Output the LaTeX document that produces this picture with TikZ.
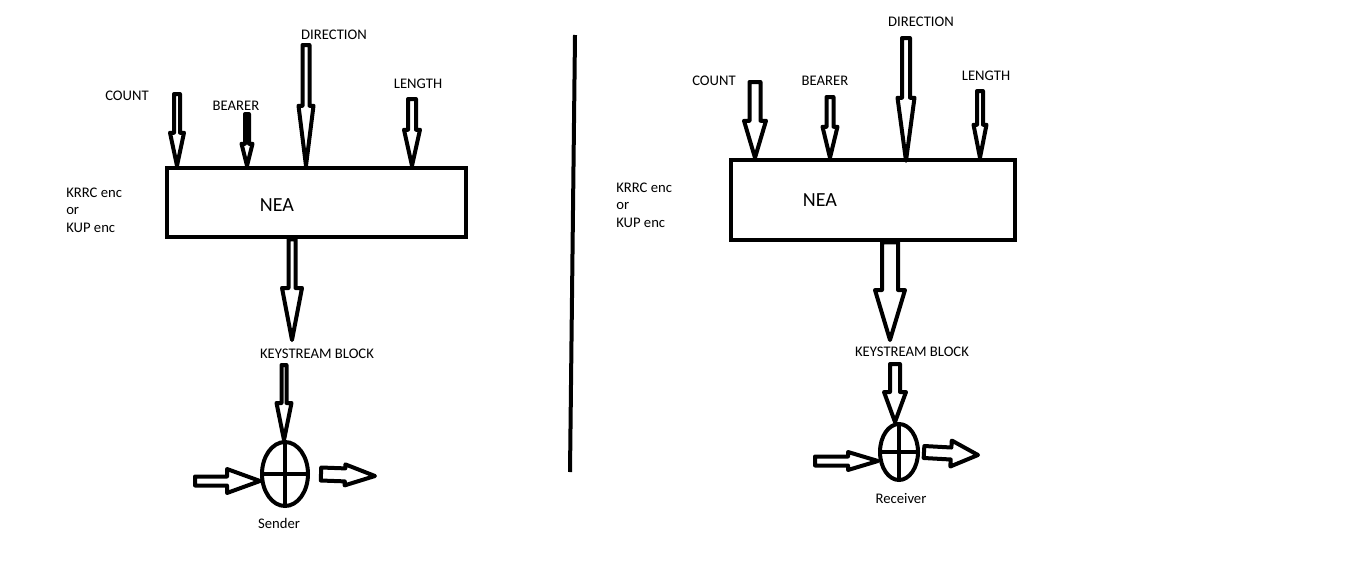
\documentclass[tikz,border=0pt]{standalone}
\usepackage{fontspec}
\setmainfont{Carlito}
\usetikzlibrary{calc, shapes.geometric}

\def\pxu{0.75pt}

\begin{document}
\begin{tikzpicture}[
  x=0.75pt, y=-0.75pt,
  lbl/.style={inner sep=0, font=\fontsize{11}{13}\selectfont},
  alg/.style={inner sep=0, font=\fontsize{15}{18}\selectfont},
  nbox/.style={draw=black, line width=4.5*\pxu, inner sep=0},
  xor/.style={ellipse, draw=black, line width=4*\pxu, inner sep=0},
  blockarrow/.style n args={3}{draw=black, fill=white, line width=4*\pxu, line join=round,
    to path={($(\tikztostart)!#1*\pxu!90:(\tikztotarget)$)
      -- ($(\tikztotarget)!#3*\pxu!(\tikztostart)!#1*\pxu!90:(\tikztotarget)$)
      -- ($(\tikztotarget)!#3*\pxu!(\tikztostart)!#2*\pxu!90:(\tikztotarget)$)
      -- (\tikztotarget)
      -- ($(\tikztotarget)!#3*\pxu!(\tikztostart)!#2*\pxu!-90:(\tikztotarget)$)
      -- ($(\tikztotarget)!#3*\pxu!(\tikztostart)!#1*\pxu!-90:(\tikztotarget)$)
      -- ($(\tikztostart)!#1*\pxu!-90:(\tikztotarget)$) -- cycle}},
]
  \useasboundingbox (0,0) rectangle (1346,582);

  % --- sender side ---
  \node[nbox, minimum width=299*\pxu, minimum height=69*\pxu] (nea1) at (316.5,202.5) {};
  \node[alg] (nealbl1) at (277,205) {NEA};
  \node[lbl, align=left, anchor=west] (key1) at (66,210) {KRRC enc\\or\\KUP enc};

  \node[lbl] (count1) at (127,96) {COUNT};
  \node[lbl] (bearer1) at (236,106) {BEARER};
  \node[lbl] (dir1) at (334,35) {DIRECTION};
  \node[lbl] (len1) at (418,84) {LENGTH};

  \coordinate (cnt1) at (177,94);
  \coordinate (brr1) at (247,114);
  \coordinate (drn1) at (306,45);
  \coordinate (lng1) at (412,99);
  \draw[blockarrow={3}{7}{33}] (cnt1) to (cnt1 |- nea1.north);
  \draw[blockarrow={2}{5.5}{22}] (brr1) to (brr1 |- nea1.north);
  \draw[blockarrow={3.5}{7.5}{60}] (drn1) to (drn1 |- nea1.north);
  \draw[blockarrow={4}{8}{36}] (lng1) to (lng1 |- nea1.north);

  \coordinate (kso1) at (292,340);
  \draw[blockarrow={3.5}{10}{52}] (kso1 |- nea1.south) to (kso1);
  \node[lbl] (ks1) at (317,354) {KEYSTREAM BLOCK};

  \node[xor, minimum width=46*\pxu, minimum height=64*\pxu] (xorl) at (285,474) {};
  \draw[line width=4*\pxu] (xorl.north) -- (xorl.south);
  \draw[line width=4*\pxu] (xorl.west) -- (xorl.east);
  \coordinate (ksi1) at (284,365);
  \draw[blockarrow={2.5}{7.5}{37}] (ksi1) to (ksi1 |- xorl.north);
  \coordinate (in1) at (195,481);
  \draw[blockarrow={4.5}{12}{33}] (in1) to (in1 -| xorl.west);
  \coordinate (out1) at (375,476);
  \draw[blockarrow={6.5}{10.5}{30}] ([xshift=11*\pxu]xorl.east) to (out1);
  \node[lbl] (snd) at (279,523) {Sender};

  % --- divider ---
  \draw[line width=4*\pxu] (575,35) -- (570,472);

  % --- receiver side ---
  \node[nbox, minimum width=284*\pxu, minimum height=80*\pxu] (nea2) at (873,200) {};
  \node[alg] (nealbl2) at (820,200) {NEA};
  \node[lbl, align=left, anchor=west] (key2) at (616,205) {KRRC enc\\or\\KUP enc};

  \node[lbl] (count2) at (714,81) {COUNT};
  \node[lbl] (bearer2) at (825,81) {BEARER};
  \node[lbl] (dir2) at (921,22) {DIRECTION};
  \node[lbl] (len2) at (986,76) {LENGTH};

  \coordinate (cnt2) at (755,82);
  \coordinate (brr2) at (830,97);
  \coordinate (drn2) at (906,38);
  \coordinate (lng2) at (980,91);
  \draw[blockarrow={5.5}{11}{37}] (cnt2) to (cnt2 |- nea2.north);
  \draw[blockarrow={3.5}{7.5}{31}] (brr2) to (brr2 |- nea2.north);
  \draw[blockarrow={4}{8.5}{63}] (drn2) to ([yshift=-3*\pxu]drn2 |- nea2.north);
  \draw[blockarrow={3}{6.5}{33}] (lng2) to (lng2 |- nea2.north);

  \coordinate (kso2) at (890,340);
  \draw[blockarrow={8}{15}{50}] (kso2 |- nea2.south) to (kso2);
  \node[lbl] (ks2) at (912,352) {KEYSTREAM BLOCK};

  \node[xor, minimum width=38*\pxu, minimum height=56*\pxu] (xorr) at (899,452) {};
  \draw[line width=4*\pxu] (xorr.north) -- (xorr.south);
  \draw[line width=4*\pxu] (xorr.west) -- (xorr.east);
  \coordinate (ksi2) at (895,364);
  \draw[blockarrow={5}{11}{30}] (ksi2) to (ksi2 |- xorr.north);
  \coordinate (in2) at (815,461);
  \draw[blockarrow={4.5}{9}{30}] (in2) to (in2 -| xorr.west);
  \coordinate (out2) at (978,455);
  \draw[blockarrow={6}{13}{27}] ([xshift=4*\pxu]xorr.east) to (out2);
  \node[lbl] (rcv) at (901,498) {Receiver};
\end{tikzpicture}
\end{document}
